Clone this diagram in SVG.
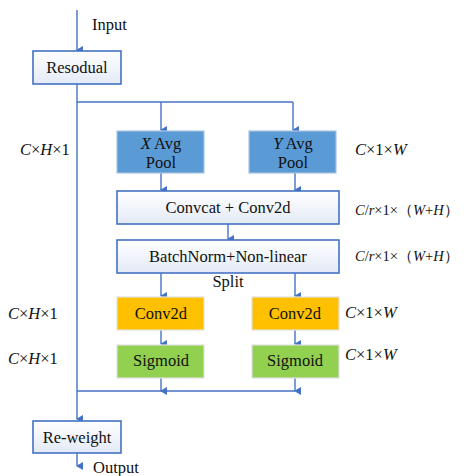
<svg xmlns="http://www.w3.org/2000/svg" width="469" height="476" viewBox="0 0 469 476">
<style>
text{font-family:"Times New Roman","Liberation Serif","DejaVu Serif","Noto Serif",Times,serif;font-size:16.5px;fill:#111}
.c{text-anchor:middle}
.i{font-style:italic}
.s{font-size:14.5px}
.wb{fill:url(#g);stroke:#4472c4;stroke-width:1.6}
.bl{fill:#5b9bd5;stroke:#a9c3e0;stroke-width:1.2}
.or{fill:#ffc000;stroke:#e0e0e0;stroke-width:1.2}
.gr{fill:#92d050;stroke:#e0e0e0;stroke-width:1.2}
.ln{fill:none;stroke:#4472c4;stroke-width:1.4}
</style>
<defs>
<linearGradient id="g" x1="0" y1="0" x2="0" y2="1"><stop offset="0" stop-color="#ffffff"/><stop offset="1" stop-color="#e3eaf6"/></linearGradient>
<marker id="a" markerWidth="10" markerHeight="10" refX="5" refY="8" orient="auto" markerUnits="userSpaceOnUse" viewBox="0 0 10 10"><path d="M1,2 L5,9 L9,2 Z" fill="#4472c4"/></marker>
</defs>
<g id="connectors">
<path class="ln" d="M77,10 V50" marker-end="url(#a)"/>
<path class="ln" d="M77,84 V419" marker-end="url(#a)"/>
<path class="ln" d="M77,102 H293"/>
<path class="ln" d="M161,102 V130" marker-end="url(#a)"/>
<path class="ln" d="M293,102 V130" marker-end="url(#a)"/>
<path class="ln" d="M161,173 V190" marker-end="url(#a)"/>
<path class="ln" d="M295,173 V190" marker-end="url(#a)"/>
<path class="ln" d="M228,224 V239" marker-end="url(#a)"/>
<path class="ln" d="M161,273 V296" marker-end="url(#a)"/>
<path class="ln" d="M295,273 V296" marker-end="url(#a)"/>
<path class="ln" d="M161,330 V344" marker-end="url(#a)"/>
<path class="ln" d="M295,330 V344" marker-end="url(#a)"/>
<path class="ln" d="M161,378 V391" marker-end="url(#a)"/>
<path class="ln" d="M295,378 V391" marker-end="url(#a)"/>
<path class="ln" d="M77,391 H295"/>
<path class="ln" d="M77,453 V466" marker-end="url(#a)"/>
</g>
<g id="input-label"><text x="92" y="30">Input</text></g>
<g id="resodual"><rect class="wb" x="33" y="51" width="88" height="33"/><text class="c" x="77" y="73">Resodual</text></g>
<g id="xpool"><rect class="bl" x="117" y="131" width="87" height="42"/><text class="c" x="161" y="149"><tspan class="i">X</tspan> Avg</text><text class="c" x="161" y="168">Pool</text></g>
<g id="ypool"><rect class="bl" x="249" y="131" width="87" height="42"/><text class="c" x="293" y="149"><tspan class="i">Y</tspan> Avg</text><text class="c" x="293" y="168">Pool</text></g>
<g id="convcat"><rect class="wb" x="117" y="191" width="222" height="33"/><text class="c" x="228" y="213">Convcat + Conv2d</text></g>
<g id="batchnorm"><rect class="wb" x="117" y="240" width="222" height="33"/><text class="c" x="228" y="262">BatchNorm+Non-linear</text></g>
<g id="split"><text class="c" x="228" y="287">Split</text></g>
<g id="conv-left"><rect class="or" x="117" y="297" width="87" height="33"/><text class="c" x="161" y="319">Conv2d</text></g>
<g id="conv-right"><rect class="or" x="252" y="297" width="87" height="33"/><text class="c" x="295" y="319">Conv2d</text></g>
<g id="sig-left"><rect class="gr" x="117" y="345" width="87" height="33"/><text class="c" x="161" y="366">Sigmoid</text></g>
<g id="sig-right"><rect class="gr" x="252" y="345" width="87" height="33"/><text class="c" x="295" y="366">Sigmoid</text></g>
<g id="reweight"><rect class="wb" x="33" y="421" width="88" height="32"/><text class="c" x="77" y="443">Re-weight</text></g>
<g id="output-label"><text x="93" y="473">Output</text></g>
<g id="dims">
<text x="20" y="155"><tspan class="i">C</tspan>×<tspan class="i">H</tspan>×1</text>
<text x="355" y="155"><tspan class="i">C</tspan>×1×<tspan class="i">W</tspan></text>
<text class="s" x="355" y="215"><tspan class="i">C</tspan>/<tspan class="i">r</tspan>×1×（<tspan class="i">W</tspan>+<tspan class="i">H</tspan>）</text>
<text class="s" x="355" y="261"><tspan class="i">C</tspan>/<tspan class="i">r</tspan>×1×（<tspan class="i">W</tspan>+<tspan class="i">H</tspan>）</text>
<text x="8" y="319"><tspan class="i">C</tspan>×<tspan class="i">H</tspan>×1</text>
<text x="345" y="318"><tspan class="i">C</tspan>×1×<tspan class="i">W</tspan></text>
<text x="8" y="364"><tspan class="i">C</tspan>×<tspan class="i">H</tspan>×1</text>
<text x="345" y="360"><tspan class="i">C</tspan>×1×<tspan class="i">W</tspan></text>
</g>
</svg>
